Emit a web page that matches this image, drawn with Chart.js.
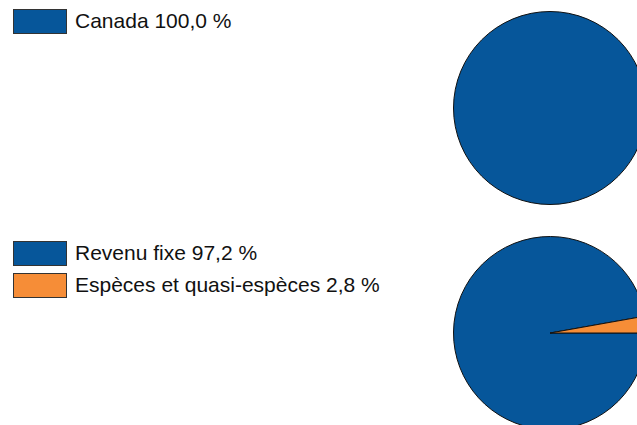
<!DOCTYPE html>
<html>
<head>
<meta charset="utf-8">
<script src="https://cdn.jsdelivr.net/npm/chart.js@4.4.0/dist/chart.umd.min.js"></script>
<style>
  html, body { margin: 0; padding: 0; width: 637px; height: 425px; overflow: hidden; background: #fff; }
  body { position: relative; font-family: "Liberation Sans", Arial, sans-serif; }
  .legend { position: absolute; left: 13px; }
  .item { display: flex; align-items: center; height: 32px; }
  .box { width: 52px; height: 23px; border: 1px solid #333; box-sizing: content-box; margin-right: 8px; }
  .item span { font-size: 21px; color: #111; white-space: nowrap; }
  canvas { position: absolute; }
</style>
</head>
<body>
<div class="legend" id="legend1" style="top:5px"></div>
<div class="legend" id="legend2" style="top:237px"></div>
<canvas id="pie1" width="194" height="194" style="left:453px; top:11px"></canvas>
<canvas id="pie2" width="194" height="194" style="left:453px; top:236px"></canvas>
<script>
// Top pie - geography
const geoLabels = ['Canada'];
const geoValues = [100.0];

// Bottom pie - asset mix
const assetLabels = ['Revenu fixe', 'Espèces et quasi-espèces'];
const assetValues = [97.2, 2.8];

const colors = ['#06569a', '#f68d37'];

function fmt(v) {
  return v.toFixed(1).replace('.', ',') + ' %';
}

function buildLegend(id, labels, values) {
  const el = document.getElementById(id);
  labels.forEach((lab, i) => {
    const row = document.createElement('div');
    row.className = 'item';
    const box = document.createElement('div');
    box.className = 'box';
    box.style.background = colors[i];
    const txt = document.createElement('span');
    txt.textContent = lab + ' ' + fmt(values[i]);
    row.appendChild(box);
    row.appendChild(txt);
    el.appendChild(row);
  });
}

// outline around the whole pie (a single 100% slice would otherwise show a radial line)
const outlinePlugin = {
  id: 'outline',
  afterDatasetsDraw(chart) {
    const arc = chart.getDatasetMeta(0).data[0];
    if (!arc) return;
    const ctx = chart.ctx;
    ctx.save();
    ctx.beginPath();
    ctx.arc(arc.x, arc.y, arc.outerRadius, 0, Math.PI * 2);
    ctx.lineWidth = 1;
    ctx.strokeStyle = '#111';
    ctx.stroke();
    ctx.restore();
  }
};

function buildPie(id, labels, values) {
  const single = values.length === 1;
  return new Chart(document.getElementById(id).getContext('2d'), {
    type: 'pie',
    data: {
      labels: labels,
      datasets: [{
        data: values,
        backgroundColor: colors.slice(0, values.length),
        borderColor: '#111',
        borderWidth: single ? 0 : 1
      }]
    },
    options: {
      responsive: false,
      animation: false,
      rotation: 90, // start at 3 o'clock
      layout: { padding: single ? 0.5 : 0 },
      plugins: {
        legend: { display: false },
        tooltip: { enabled: false }
      }
    },
    plugins: single ? [outlinePlugin] : []
  });
}

buildLegend('legend1', geoLabels, geoValues);
buildLegend('legend2', assetLabels, assetValues);
buildPie('pie1', geoLabels, geoValues);
buildPie('pie2', assetLabels, assetValues);
</script>
</body>
</html>
